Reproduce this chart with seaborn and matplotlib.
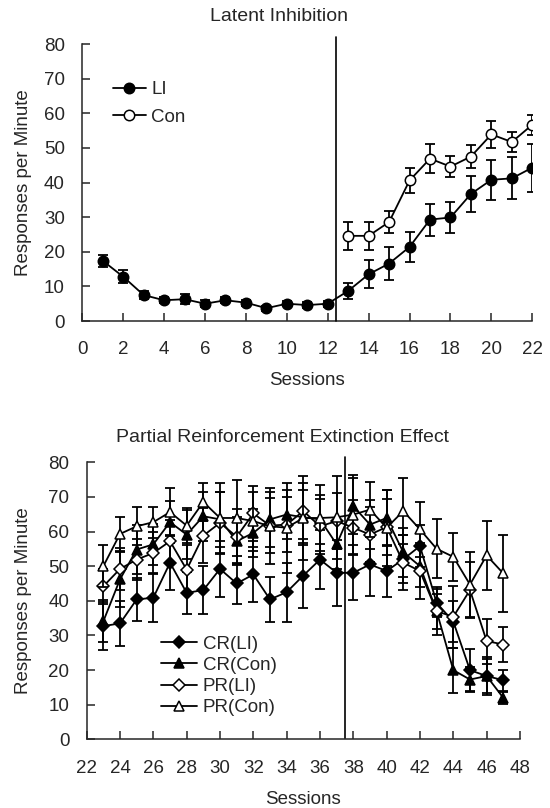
import matplotlib
matplotlib.use("Agg")
import matplotlib.pyplot as plt
import numpy as np
import seaborn as sns

# ---- Latent Inhibition (top panel) ----
li_sessions = list(range(1, 23))
li_mean = [17.4, 12.8, 7.5, 6.0, 6.3, 5.0, 6.0, 5.3, 3.7, 5.0, 4.6, 5.0,
           8.7, 13.5, 16.6, 21.4, 29.3, 29.9, 36.7, 40.8, 41.2, 44.3]
li_sem = [1.8, 1.8, 1.2, 0.8, 1.4, 1.0, 0.9, 0.9, 0.7, 0.8, 0.9, 0.9,
          2.3, 4.0, 4.7, 4.4, 4.6, 4.6, 5.2, 5.8, 6.1, 6.9]
con_sessions = list(range(13, 23))
con_mean = [24.6, 24.6, 28.6, 40.6, 46.9, 44.6, 47.5, 53.9, 51.7, 56.7]
con_sem = [4.0, 4.0, 3.1, 3.5, 4.1, 3.0, 3.4, 4.0, 2.9, 2.9]
li_split = 12.4

# ---- PREE (bottom panel) ----
pree_sessions = list(range(23, 48))
cr_li = [32.7, 33.5, 40.4, 40.9, 51.0, 42.3, 43.1, 49.2, 45.0, 47.6, 40.4, 42.5, 47.3,
         51.9, 48.1, 48.1, 50.5, 48.6, 52.0, 55.8, 39.4, 34.0, 20.0, 18.3, 17.1]
cr_li_sem = [7.0, 6.5, 6.3, 7.0, 8.0, 6.0, 7.0, 8.0, 6.0, 8.0, 6.5, 8.5, 9.5,
             8.5, 9.5, 8.0, 9.0, 7.5, 7.0, 6.0, 4.0, 6.0, 6.0, 5.5, 3.0]
cr_con = [34.1, 46.2, 54.8, 56.3, 62.7, 59.1, 64.4, 63.5, 57.2, 59.6, 63.5, 64.9, 64.1,
          63.5, 56.3, 67.3, 62.0, 63.9, 54.0, 50.0, 37.0, 20.0, 17.3, 18.3, 12.0]
cr_con_sem = [6.0, 8.0, 7.0, 6.0, 6.0, 7.0, 7.0, 8.0, 7.0, 7.0, 8.0, 7.0, 8.0,
              7.0, 7.0, 8.0, 7.0, 8.0, 7.0, 6.0, 5.0, 6.5, 3.5, 5.0, 1.8]
pr_li = [44.2, 49.2, 51.9, 53.8, 57.2, 49.0, 58.8, 62.5, 58.5, 65.2, 61.7, 62.0, 65.9,
         61.5, 63.0, 61.1, 59.1, 61.3, 51.0, 48.6, 37.0, 35.4, 43.1, 28.4, 27.4]
pr_li_sem = [5.0, 6.0, 6.0, 6.0, 6.0, 7.0, 8.0, 9.0, 8.0, 8.0, 8.0, 8.0, 8.0,
             8.0, 8.0, 8.0, 8.0, 8.0, 8.0, 8.0, 7.0, 9.0, 8.0, 6.5, 5.0]
pr_con = [50.0, 59.3, 61.5, 62.7, 65.6, 61.7, 68.5, 63.9, 63.9, 63.0, 61.5, 61.1, 63.9,
          63.9, 64.1, 64.9, 66.3, 61.1, 65.9, 60.6, 55.0, 52.7, 44.7, 53.1, 47.9]
pr_con_sem = [6.0, 5.0, 5.5, 4.5, 7.0, 5.0, 5.5, 10.0, 11.0, 8.5, 11.0, 13.0, 12.0,
              9.5, 12.0, 11.5, 8.0, 11.0, 9.5, 8.0, 8.5, 7.0, 9.5, 10.0, 11.0]
pree_split = 37.5

sns.set_style("ticks")
plt.rcParams.update({
    "font.family": ["Liberation Sans", "DejaVu Sans"],
    "font.size": 13.5,
    "axes.linewidth": 1.1,
    "xtick.direction": "in",
    "ytick.direction": "in",
    "xtick.major.size": 5.5,
    "ytick.major.size": 5.5,
    "xtick.major.width": 1.1,
    "ytick.major.width": 1.1,
    "xtick.major.pad": 14.5,
    "ytick.major.pad": 12.5,
    "xtick.labelsize": 13.5,
    "ytick.labelsize": 13.5,
})

fig = plt.figure(figsize=(5.5, 8.08), dpi=100)
ax1 = fig.add_axes([0.1496, 0.6027, 0.8182, 0.3428])
ax2 = fig.add_axes([0.1576, 0.0848, 0.7878, 0.3432])

LW = 1.3
EB = dict(fmt="none", ecolor="black", elinewidth=1.3, capsize=3.6, capthick=1.3)


def series(ax, x, y, err, marker, filled, label, ms, z):
    ax.errorbar(x, y, yerr=err, zorder=z, **EB)
    sns.lineplot(x=x, y=y, ax=ax, color="black", linewidth=LW, marker=marker,
                 markersize=ms, markeredgecolor="black", markeredgewidth=1.1,
                 markerfacecolor="black" if filled else "white",
                 label=label, zorder=z + 0.5)


# top panel
series(ax1, li_sessions, li_mean, li_sem, "o", True, "LI", 7.5, 2)
series(ax1, con_sessions, con_mean, con_sem, "o", False, "Con", 7.5, 3)
ax1.plot([li_split, li_split], [0, 82], color="black", lw=1.2, clip_on=False, zorder=5)
ax1.set_xlim(0, 22)
ax1.set_ylim(0, 80)
ax1.set_xticks(range(0, 23, 2))
ax1.set_yticks(range(0, 81, 10))
ax1.legend(loc="upper left", bbox_to_anchor=(0.0676, 0.866), frameon=False,
           borderaxespad=0, borderpad=0, handlelength=1.75, handletextpad=0.3,
           labelspacing=0.55, fontsize=13.5)

# bottom panel
series(ax2, pree_sessions, cr_li, cr_li_sem, "D", True, "CR(LI)", 6.3, 2)
series(ax2, pree_sessions, cr_con, cr_con_sem, "^", True, "CR(Con)", 7.5, 3)
series(ax2, pree_sessions, pr_li, pr_li_sem, "D", False, "PR(LI)", 6.3, 4)
series(ax2, pree_sessions, pr_con, pr_con_sem, "^", False, "PR(Con)", 7.5, 5)
ax2.plot([pree_split, pree_split], [0.5, 81.5], color="black", lw=1.2, clip_on=False, zorder=6)
ax2.set_xlim(22, 48)
ax2.set_ylim(0, 80)
ax2.set_xticks(range(22, 49, 2))
ax2.set_yticks(range(0, 81, 10))
ax2.legend(loc="upper left", bbox_to_anchor=(0.171, 0.375), frameon=False,
           borderaxespad=0, borderpad=0, handlelength=1.95, handletextpad=0.3,
           labelspacing=0.22, fontsize=13.5)

for ax in (ax1, ax2):
    sns.despine(ax=ax)
    ax.set_xlabel("Sessions", fontsize=13.5)
    ax.set_ylabel("Responses per Minute", fontsize=13.5)
    ax.xaxis.label.set_va("center")
    ax.yaxis.label.set_va("center")

ax1.xaxis.set_label_coords(0.5, (321 - 380) / 277)
ax1.yaxis.set_label_coords((24 - 82.3) / 450, 0.5)
ax2.xaxis.set_label_coords(0.5, (739.5 - 800) / 277.3)
ax2.yaxis.set_label_coords((24 - 86.7) / 433.3, 0.5)

fig.text(279.5 / 550, 1 - 16.7 / 808, "Latent Inhibition", ha="center", va="center", fontsize=14)
fig.text(282.5 / 550, 1 - 437 / 808, "Partial Reinforcement Extinction Effect",
         ha="center", va="center", fontsize=14)

fig.savefig("out.png", dpi=100)
